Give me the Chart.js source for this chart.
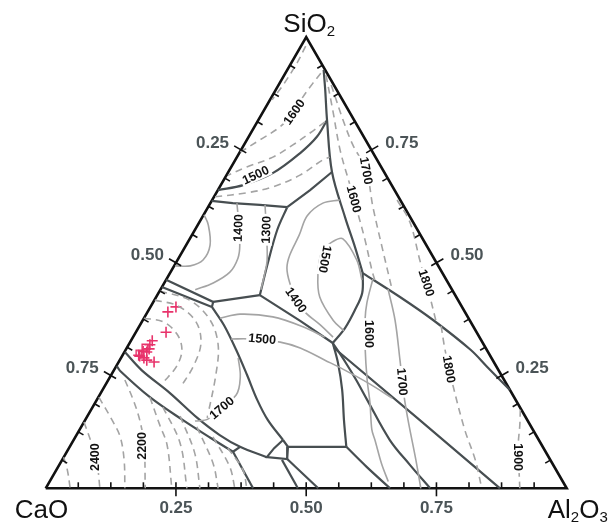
<!DOCTYPE html>
<html>
<head>
<meta charset="utf-8">
<title>CaO - SiO2 - Al2O3 liquidus</title>
<script src="https://cdn.jsdelivr.net/npm/chart.js@4.4.1/dist/chart.umd.min.js"></script>
<style>
  body { margin: 0; background: #fff; }
  #box { width: 615px; height: 526px; }
</style>
</head>
<body>
<div id="box"><canvas id="chart" width="615" height="526"></canvas></div>
<script>
// every point is a composition [Al2O3, SiO2] in mass fraction, CaO is the rest
const frame = [[0, 0], [1, 0], [0, 1], [0, 0]];

// phase field boundaries
const silicaMullite = [[0.070, 0.927], [0.095, 0.883], [0.132, 0.816], [0.199, 0.701], [0.274, 0.601], [0.326, 0.535], [0.370, 0.477]];
const mulliteCorundum = [[0.370, 0.477], [0.468, 0.424], [0.557, 0.373], [0.662, 0.307], [0.713, 0.269], [0.782, 0.218]];
const anorthiteCorundum = [[0.370, 0.477], [0.391, 0.433], [0.396, 0.395], [0.397, 0.355], [0.390, 0.322]];
const silicaAnorthite = [[0.199, 0.701], [0.177, 0.661], [0.152, 0.623]];
const silicaWollastonite = [[0, 0.637], [0.043, 0.632], [0.097, 0.628], [0.152, 0.623]];
const liquidGap = [[0, 0.661], [0.043, 0.672], [0.087, 0.699], [0.117, 0.743], [0.131, 0.779], [0.132, 0.816]];
const anorthiteWollastonite = [[0.152, 0.623], [0.158, 0.573], [0.176, 0.502], [0.197, 0.428]];
const gehleniteWollastonite = [[0.197, 0.428], [0.115, 0.413]];
const anorthiteGehlenite = [[0.197, 0.428], [0.303, 0.371], [0.390, 0.322]];
const rankiniteTop = [[0, 0.462], [0.115, 0.413], [0.118, 0.402]];
const rankiniteBottom = [[0, 0.446], [0.118, 0.402]];
const gehleniteLarnite = [[0.118, 0.402], [0.161, 0.362], [0.212, 0.307], [0.261, 0.251], [0.308, 0.196], [0.351, 0.151], [0.402, 0.107]];
const larniteTop = [[0.001, 0.302], [0.053, 0.262], [0.133, 0.211], [0.213, 0.156], [0.275, 0.118], [0.327, 0.092], [0.390, 0.069]];
const larniteBottom = [[0.001, 0.271], [0.013, 0.260], [0.099, 0.202], [0.188, 0.151], [0.260, 0.112], [0.319, 0.081]];
const larniteJoin = [[0.319, 0.081], [0.327, 0.092]];
const limeAluminate = [[0.319, 0.081], [0.398, 0]];
const smallField = [[0.402, 0.107], [0.419, 0.092], [0.431, 0.065], [0.390, 0.069], [0.394, 0.089], [0.402, 0.107]];
const aluminateA = [[0.422, 0.063], [0.484, 0]];
const aluminateB = [[0.431, 0.065], [0.523, 0]];
const gehleniteBottom = [[0.419, 0.092], [0.531, 0.092]];
const gehleniteRight = [[0.390, 0.322], [0.422, 0.278], [0.460, 0.218], [0.497, 0.151], [0.531, 0.092]];
const aluminateC = [[0.531, 0.092], [0.593, 0.047], [0.661, 0]];
const hiboniteLow = [[0.390, 0.322], [0.435, 0.280], [0.476, 0.240], [0.519, 0.196], [0.607, 0.107], [0.673, 0.052], [0.738, 0]];
const hiboniteHigh = [[0.398, 0.311], [0.635, 0.156], [0.872, 0]];

// isotherms, solid
const iso1400a = [[0.051, 0.632], [0.066, 0.606], [0.103, 0.539], [0.114, 0.510], [0.114, 0.479], [0.094, 0.455], [0.067, 0.440]];
const iso1300 = [[0.107, 0.628], [0.137, 0.573], [0.172, 0.506], [0.184, 0.471], [0.193, 0.440]];
const isoLoop = [[0.001, 0.606], [0.020, 0.584], [0.046, 0.539], [0.049, 0.506], [0.031, 0.493], [0.002, 0.493]];
const iso1500a = [[0.376, 0.462], [0.344, 0.506], [0.294, 0.553], [0.277, 0.546], [0.268, 0.524], [0.286, 0.473], [0.314, 0.424], [0.366, 0.372], [0.398, 0.349]];
const iso1400b = [[0.245, 0.639], [0.216, 0.632], [0.200, 0.604], [0.206, 0.561], [0.210, 0.517], [0.219, 0.488], [0.241, 0.455],
                  [0.270, 0.422], [0.302, 0.391], [0.346, 0.362], [0.384, 0.335]];
const isoGehlA = [[0.146, 0.377], [0.180, 0.386], [0.246, 0.380], [0.315, 0.358], [0.368, 0.335]];
const iso1500b = [[0.190, 0.331], [0.227, 0.331], [0.288, 0.324], [0.333, 0.311], [0.394, 0.284], [0.443, 0.262], [0.507, 0.231], [0.565, 0.200]];
const iso1600c = [[0.396, 0.464], [0.411, 0.411], [0.426, 0.374], [0.456, 0.314], [0.497, 0.240], [0.528, 0.189], [0.561, 0.130], [0.580, 0.105], [0.617, 0.055], [0.650, 0.015]];
const iso1700c = [[0.436, 0.442], [0.484, 0.373], [0.538, 0.284], [0.584, 0.207], [0.620, 0.151], [0.679, 0.063], [0.720, 0]];
const iso1700s = [[0.212, 0.149], [0.235, 0.154], [0.262, 0.207], [0.250, 0.247], [0.225, 0.289]];

// isotherms, dashed
const silica1 = [[0.009, 0.980], [0.011, 0.943], [0.009, 0.896], [0.004, 0.861]];
const silica1600 = [[0.068, 0.920], [0.064, 0.898], [0.060, 0.867], [0.060, 0.834], [0.049, 0.801], [0.025, 0.772], [0.001, 0.745]];
const silica1500 = [[0.130, 0.812], [0.114, 0.788], [0.094, 0.761], [0.069, 0.734], [0.030, 0.712], [0.003, 0.694]];
const silicaLow = [[0.002, 0.646], [0.059, 0.655], [0.102, 0.668], [0.141, 0.694], [0.168, 0.728], [0.178, 0.734]];
const mullite1600 = [[0.080, 0.916], [0.132, 0.838], [0.190, 0.750], [0.248, 0.672], [0.294, 0.610], [0.338, 0.550], [0.384, 0.484], [0.402, 0.460]];
const mullite1700 = [[0.101, 0.894], [0.162, 0.817], [0.209, 0.761], [0.262, 0.706], [0.316, 0.624], [0.378, 0.535], [0.445, 0.440]];
const mullite1800 = [[0.355, 0.639], [0.404, 0.590], [0.465, 0.506], [0.514, 0.440], [0.565, 0.369]];
const corundum1800 = [[0.579, 0.360], [0.613, 0.307], [0.667, 0.229], [0.740, 0.129], [0.793, 0.063], [0.837, 0]];
const corundum1900 = [[0.824, 0.174], [0.840, 0.140], [0.859, 0.096], [0.888, 0.041], [0.910, 0]];
const larniteInner = [[0.000, 0.377], [0.041, 0.369], [0.081, 0.342], [0.108, 0.307], [0.116, 0.271], [0.108, 0.233]];
const larniteA = [[0.001, 0.417], [0.052, 0.404], [0.104, 0.369], [0.137, 0.322], [0.148, 0.273], [0.147, 0.225]];
const larniteB = [[0.001, 0.437], [0.068, 0.417], [0.129, 0.373], [0.172, 0.318], [0.201, 0.251], [0.232, 0.156]];
const lime1 = [[0, 0.069], [0.021, 0.041], [0.047, 0]];
const lime2400 = [[0, 0.147], [0.041, 0.096], [0.073, 0.052], [0.104, 0]];
const lime2 = [[0.001, 0.202], [0.052, 0.151], [0.086, 0.114], [0.119, 0.063], [0.152, 0]];
const lime2200 = [[0.032, 0.240], [0.070, 0.196], [0.105, 0.151], [0.141, 0.096], [0.191, 0]];
const lime3 = [[0.099, 0.202], [0.149, 0.140], [0.185, 0.096], [0.242, 0]];
const lime4 = [[0.135, 0.180], [0.208, 0.100], [0.271, 0]];
const lime5 = [[0.178, 0.160], [0.247, 0.078], [0.296, 0]];
const lime6 = [[0.222, 0.136], [0.293, 0.056], [0.331, 0]];
const lime7 = [[0.264, 0.114], [0.330, 0.047], [0.363, 0]];
const lime8 = [[0.305, 0.089], [0.358, 0.041], [0.386, 0]];

// sample compositions
const samples = [[0.049, 0.402], [0.039, 0.391], [0.058, 0.346], [0.041, 0.327], [0.041, 0.318], [0.044, 0.309], [0.043, 0.302],
                 [0.034, 0.293], [0.044, 0.289], [0.052, 0.284], [0.068, 0.280], [0.031, 0.295], [0.035, 0.304]];
const samplesBoxed = [[0.029, 0.300], [0.034, 0.313]];

// isotherm labels: text, Al2O3, SiO2, angle of the text
const isoLabels = [
    ['1600', 0.060, 0.834, -55], ['1500', 0.056, 0.694, -25], ['1700', 0.263, 0.704, 80], ['1600', 0.271, 0.641, 75],
    ['1400', 0.081, 0.577, -88], ['1300', 0.137, 0.573, -88], ['1500', 0.282, 0.508, 100], ['1400', 0.272, 0.417, 55],
    ['1500', 0.250, 0.331, 5], ['1600', 0.450, 0.342, 90], ['1800', 0.503, 0.455, 72], ['1700', 0.566, 0.236, 85],
    ['1800', 0.642, 0.264, 80], ['1900', 0.872, 0.069, 90], ['1700', 0.249, 0.178, -40], ['2200', 0.138, 0.094, -90],
    ['2400', 0.060, 0.069, -90]
];

const tickValues = [0.25, 0.5, 0.75];
const tickTexts = ['0.25', '0.50', '0.75'];
const minorStep = 1 / 16;

const H = Math.sqrt(3) / 2;
const toXY = c => ({ x: c[0] + c[1] / 2, y: c[1] * H });

function lineSet(points, color, width, dash, tension) {
    return {
        data: points.map(toXY),
        showLine: true,
        borderColor: color,
        borderWidth: width,
        borderDash: dash || [],
        tension: tension === undefined ? 0.35 : tension,
        pointRadius: 0,
        clip: false
    };
}

const DARK = '#474e51', GREY = '#a4a4a4', DASH = [7, 5];

const dashedLines = [silica1, silica1600, silica1500, silicaLow, mullite1600, mullite1700, mullite1800, corundum1800,
    corundum1900, larniteInner, larniteA, larniteB, lime1, lime2400, lime2, lime2200, lime3, lime4, lime5, lime6, lime7, lime8];
const solidIsotherms = [iso1400a, iso1300, isoLoop, iso1500a, iso1400b, isoGehlA, iso1500b, iso1600c, iso1700c, iso1700s];
const curvedBoundaries = [silicaMullite, mulliteCorundum, anorthiteCorundum, liquidGap, anorthiteWollastonite,
    gehleniteLarnite, larniteTop, larniteBottom, gehleniteRight, aluminateC, hiboniteLow];
const straightBoundaries = [silicaAnorthite, silicaWollastonite, gehleniteWollastonite, anorthiteGehlenite, rankiniteTop,
    rankiniteBottom, larniteJoin, limeAluminate, smallField, aluminateA, aluminateB, gehleniteBottom, hiboniteHigh];

const datasets = [];
dashedLines.forEach(l => datasets.push(lineSet(l, GREY, 1.6, DASH)));
solidIsotherms.forEach(l => datasets.push(lineSet(l, GREY, 1.6)));
curvedBoundaries.forEach(l => datasets.push(lineSet(l, DARK, 2.2)));
straightBoundaries.forEach(l => datasets.push(lineSet(l, DARK, 2.2, null, 0)));
datasets.push(lineSet(frame, '#111', 2.6, null, 0));
datasets.push({
    data: samplesBoxed.map(toXY),
    pointStyle: 'rect',
    pointRadius: 4,
    borderWidth: 1.4,
    borderColor: '#e8336b',
    backgroundColor: 'rgba(0,0,0,0)',
    clip: false
});
datasets.push({
    data: samples.map(toXY),
    pointStyle: 'cross',
    pointRadius: 5.5,
    borderWidth: 1.6,
    borderColor: '#e8336b',
    backgroundColor: '#e8336b',
    clip: false
});

function drawFormula(ctx, parts, x, y, align) {
    const big = '26px "Liberation Sans", Arial, sans-serif';
    const small = '15px "Liberation Sans", Arial, sans-serif';
    let w = 0;
    parts.forEach(p => { ctx.font = p[1] ? small : big; w += ctx.measureText(p[0]).width; });
    let cx = align === 'center' ? x - w / 2 : x;
    ctx.textAlign = 'left';
    ctx.textBaseline = 'alphabetic';
    parts.forEach(p => {
        ctx.font = p[1] ? small : big;
        ctx.fillText(p[0], cx, p[1] ? y + 4 : y);
        cx += ctx.measureText(p[0]).width;
    });
}

const ternaryDecor = {
    id: 'ternaryDecor',
    afterDatasetsDraw(chart) {
        const ctx = chart.ctx, sx = chart.scales.x, sy = chart.scales.y;
        const pix = c => { const p = toXY(c); return [sx.getPixelForValue(p.x), sy.getPixelForValue(p.y)]; };
        ctx.save();

        // labels on the isotherms
        ctx.font = 'bold 12.5px "Liberation Sans", Arial, sans-serif';
        ctx.textAlign = 'center';
        ctx.textBaseline = 'middle';
        isoLabels.forEach(l => {
            const [x, y] = pix([l[1], l[2]]);
            ctx.save();
            ctx.translate(x, y);
            ctx.rotate(l[3] * Math.PI / 180);
            const w = ctx.measureText(l[0]).width;
            ctx.fillStyle = '#fff';
            ctx.fillRect(-w / 2 - 2, -6, w + 4, 12);
            ctx.fillStyle = '#111';
            ctx.fillText(l[0], 0, 0.5);
            ctx.restore();
        });

        // ticks on the three sides
        const sides = [
            { at: f => [f, 0], n: [0, -1] },
            { at: f => [0, 1 - f], n: [0.866, 0.5] },
            { at: f => [1 - f, f], n: [-0.866, 0.5] }
        ];
        ctx.strokeStyle = '#111';
        ctx.lineWidth = 1.6;
        sides.forEach(side => {
            for (let k = 1; k < 16; k++) {
                const f = k * minorStep;
                const [x, y] = pix(side.at(f));
                const major = k % 4 === 0;
                const inn = 6, out = major ? 8 : 0;
                ctx.beginPath();
                ctx.moveTo(x - side.n[0] * out, y - side.n[1] * out);
                ctx.lineTo(x + side.n[0] * inn, y + side.n[1] * inn);
                ctx.stroke();
            }
        });

        // tick labels
        ctx.fillStyle = '#4b5457';
        ctx.font = 'bold 17px "Liberation Sans", Arial, sans-serif';
        ctx.textBaseline = 'middle';
        tickValues.forEach((v, i) => {
            let [x, y] = pix(sides[0].at(v));
            ctx.textAlign = 'center';
            ctx.fillText(tickTexts[i], x, y + 20);
            [x, y] = pix(sides[1].at(v));
            ctx.textAlign = 'right';
            ctx.fillText(tickTexts[i], x - 12, y - 7);
            [x, y] = pix(sides[2].at(v));
            ctx.textAlign = 'left';
            ctx.fillText(tickTexts[i], x + 14, y - 7);
        });

        // component names at the corners
        ctx.fillStyle = '#111';
        const [tx, ty] = pix([0, 1]);
        drawFormula(ctx, [['SiO', false], ['2', true]], tx + 3, ty - 5, 'center');
        const [lx, ly] = pix([0, 0]);
        drawFormula(ctx, [['CaO', false]], lx - 31, ly + 30, 'left');
        const [rx, ry] = pix([1, 0]);
        drawFormula(ctx, [['Al', false], ['2', true], ['O', false], ['3', true]], rx - 19, ry + 30, 'left');
        ctx.restore();
    }
};

new Chart(document.getElementById('chart').getContext('2d'), {
    type: 'scatter',
    data: { datasets: datasets },
    options: {
        responsive: false,
        animation: false,
        events: [],
        layout: { padding: { left: 45.7, right: 48.3, top: 37.1, bottom: 37.7 } },
        scales: {
            x: { type: 'linear', min: 0, max: 1, display: false },
            y: { type: 'linear', min: 0, max: H, display: false }
        },
        plugins: { legend: { display: false }, tooltip: { enabled: false } }
    },
    plugins: [ternaryDecor]
});
</script>
</body>
</html>
